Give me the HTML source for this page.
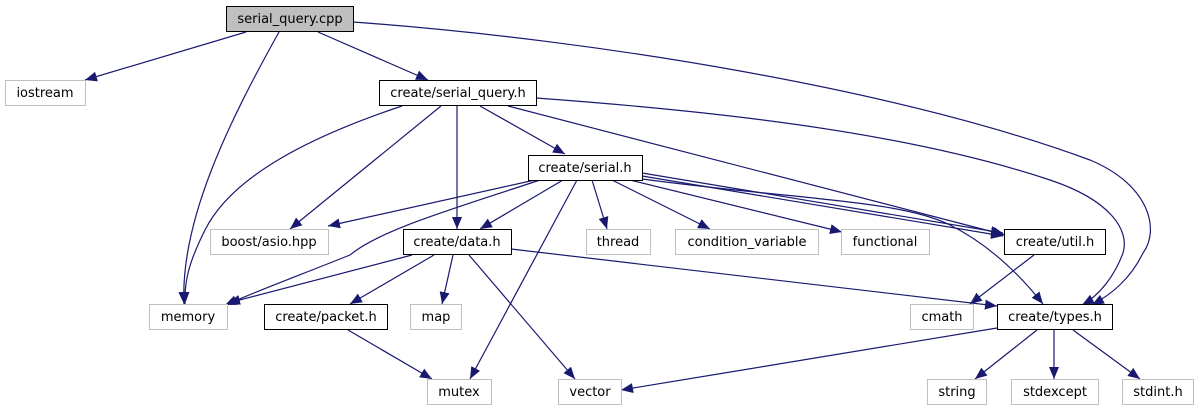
<!DOCTYPE html>
<html><head><meta charset="utf-8"><style>
html,body{margin:0;padding:0;background:#fff;width:1198px;height:411px;overflow:hidden}
text{font-family:"DejaVu Sans","Liberation Sans",sans-serif;font-size:13px;fill:#000}
</style></head><body>
<svg width="1198" height="411" viewBox="0 0 1198 411" xmlns="http://www.w3.org/2000/svg">
<defs><marker id="a" markerWidth="12" markerHeight="10" refX="12" refY="5" orient="auto" markerUnits="userSpaceOnUse"><path d="M0,0 L12,5 L0,10 Z" fill="#191970"/></marker></defs>
<g fill="none" stroke="#191970" stroke-width="1.2" marker-end="url(#a)">
<path d="M246,32 L85,80"/>
<path d="M279,32 C230,120 180,220 184,304"/>
<path d="M318,32 L428,80"/>
<path d="M353,22 C600,40 900,90 1090,160 C1150,185 1160,230 1143,253 C1130,280 1110,295 1092,305"/>
<path d="M402,106 C300,140 230,180 205,230 C190,260 184,280 185,304"/>
<path d="M441,106 L290,229"/>
<path d="M457,106 L457,229"/>
<path d="M480,106 L565,154"/>
<path d="M508,106 L1005,235"/>
<path d="M536,98 C700,110 900,130 1050,180 C1110,200 1130,230 1123,253 C1115,275 1100,295 1082,305"/>
<path d="M535,180 L328,226"/>
<path d="M540,180 C450,210 380,230 350,255 C300,275 260,290 225,305"/>
<path d="M563,180 L480,229"/>
<path d="M577,180 L470,379"/>
<path d="M592,180 L607,229"/>
<path d="M612,180 L710,229"/>
<path d="M630,180 L842,232"/>
<path d="M642,173 L1003,233"/>
<path d="M642,176 L1003,236"/>
<path d="M642,179 C800,200 900,200 950,225 C990,245 1020,275 1043,304"/>
<path d="M412,255 L228,303"/>
<path d="M434,255 L350,304"/>
<path d="M453,255 L442,304"/>
<path d="M469,255 L575,379"/>
<path d="M511,249 L997,306"/>
<path d="M348,330 L432,379"/>
<path d="M1034,255 L970,304"/>
<path d="M997,328 L621,390"/>
<path d="M1037,330 L975,379"/>
<path d="M1054,330 L1054,379"/>
<path d="M1073,330 L1140,379"/>
</g>
<g stroke-width="1">
<rect x="226.5" y="6.5" width="127" height="25" fill="#bfbfbf" stroke="#000"/>
<rect x="5.5" y="80.5" width="80" height="25" fill="#fff" stroke="#bfbfbf"/>
<rect x="379.5" y="80.5" width="157" height="25" fill="#fff" stroke="#000"/>
<rect x="528.5" y="155.5" width="114" height="25" fill="#fff" stroke="#000"/>
<rect x="210.5" y="229.5" width="118" height="25" fill="#fff" stroke="#bfbfbf"/>
<rect x="403.5" y="229.5" width="108" height="25" fill="#fff" stroke="#000"/>
<rect x="586.5" y="229.5" width="64" height="25" fill="#fff" stroke="#bfbfbf"/>
<rect x="675.5" y="229.5" width="143" height="25" fill="#fff" stroke="#bfbfbf"/>
<rect x="841.5" y="229.5" width="88" height="25" fill="#fff" stroke="#bfbfbf"/>
<rect x="1004.5" y="229.5" width="101" height="25" fill="#fff" stroke="#000"/>
<rect x="149.5" y="304.5" width="78" height="25" fill="#fff" stroke="#bfbfbf"/>
<rect x="264.5" y="304.5" width="123" height="25" fill="#fff" stroke="#000"/>
<rect x="410.5" y="304.5" width="51" height="25" fill="#fff" stroke="#bfbfbf"/>
<rect x="910.5" y="304.5" width="63" height="25" fill="#fff" stroke="#bfbfbf"/>
<rect x="997.5" y="304.5" width="115" height="25" fill="#fff" stroke="#000"/>
<rect x="427.5" y="379.5" width="64" height="25" fill="#fff" stroke="#bfbfbf"/>
<rect x="558.5" y="379.5" width="63" height="25" fill="#fff" stroke="#bfbfbf"/>
<rect x="927.5" y="379.5" width="59" height="25" fill="#fff" stroke="#bfbfbf"/>
<rect x="1011.5" y="379.5" width="87" height="25" fill="#fff" stroke="#bfbfbf"/>
<rect x="1122.5" y="379.5" width="71" height="25" fill="#fff" stroke="#bfbfbf"/>
</g>
<g text-anchor="middle">
<text x="290" y="23">serial_query.cpp</text>
<text x="45" y="97">iostream</text>
<text x="458" y="97">create/serial_query.h</text>
<text x="585" y="172">create/serial.h</text>
<text x="269" y="246">boost/asio.hpp</text>
<text x="457" y="246">create/data.h</text>
<text x="618" y="246">thread</text>
<text x="747" y="246">condition_variable</text>
<text x="885" y="246">functional</text>
<text x="1055" y="246">create/util.h</text>
<text x="188" y="321">memory</text>
<text x="326" y="321">create/packet.h</text>
<text x="436" y="321">map</text>
<text x="942" y="321">cmath</text>
<text x="1055" y="321">create/types.h</text>
<text x="459" y="396">mutex</text>
<text x="590" y="396">vector</text>
<text x="957" y="396">string</text>
<text x="1055" y="396">stdexcept</text>
<text x="1158" y="396">stdint.h</text>
</g>
</svg>
</body></html>
